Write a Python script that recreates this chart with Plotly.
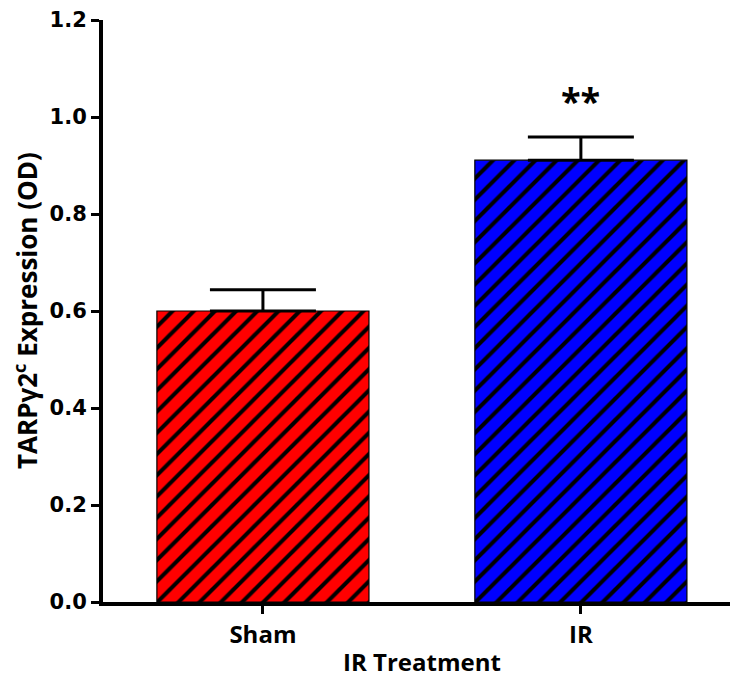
import plotly.graph_objects as go

categories = ["Sham", "IR"]
means = [0.600, 0.911]
errors_up = [0.044, 0.048]
bar_colors = ["#FF0000", "#0000FF"]
significance = ["", "**"]
y_ticks = [0.0, 0.2, 0.4, 0.6, 0.8, 1.0, 1.2]

fig = go.Figure()
for cat, m, e, c in zip(categories, means, errors_up, bar_colors):
    fig.add_trace(go.Bar(
        x=[cat], y=[m], width=0.667,
        marker=dict(color=c,
                    line=dict(color="black", width=1.2),
                    pattern=dict(shape="/", fgcolor="black", bgcolor=c,
                                 fgopacity=1, size=15, solidity=0.27, fillmode="replace")),
        error_y=dict(type="data", array=[e], arrayminus=[0], symmetric=False,
                     color="black", thickness=3, width=53),
        showlegend=False,
    ))

for cat, m, e, s in zip(categories, means, errors_up, significance):
    if s:
        fig.add_annotation(x=cat, y=m + e, yshift=10, text="<b>" + s + "</b>",
                           showarrow=False, yanchor="bottom",
                           font=dict(family="Open Sans", size=36, color="black"))

fig.add_annotation(xref="paper", yref="paper", x=(26 - 103) / 627, y=0.5,
                   text="<b>TARPγ2<sup>c</sup> Expression (OD)</b>", textangle=-90,
                   showarrow=False, xanchor="center", yanchor="middle",
                   font=dict(family="Open Sans", size=26, color="black"))
fig.add_annotation(xref="paper", yref="paper", x=(422 - 103) / 627, y=-(661 - 602) / 582,
                   text="<b>IR Treatment</b>", showarrow=False,
                   xanchor="center", yanchor="middle",
                   font=dict(family="Open Sans", size=24, color="black"))

fig.update_layout(
    width=730, height=677,
    margin=dict(l=103, r=0, t=20, b=75),
    plot_bgcolor="white", paper_bgcolor="white",
    barmode="overlay",
)
fig.update_xaxes(
    type="category", categoryorder="array", categoryarray=categories,
    range=[-0.503, 1.469],
    showline=True, linecolor="black", linewidth=4,
    ticks="outside", ticklen=8, tickwidth=3, tickcolor="black",
    showgrid=False, zeroline=False,
    tickfont=dict(family="Open Sans", size=24, color="black", weight="bold"),
)
fig.update_yaxes(
    range=[0, 1.2], tickvals=y_ticks, tickformat=".1f",
    showline=True, linecolor="black", linewidth=4,
    ticks="outside", ticklen=8, tickwidth=3, tickcolor="black",
    showgrid=False, zeroline=False,
    tickfont=dict(family="DejaVu Sans", size=21, color="black", weight="bold"),
)

fig.write_html("out.html", config={"displayModeBar": False},
               post_script="document.body.style.margin='0';document.body.style.overflow='hidden';")
